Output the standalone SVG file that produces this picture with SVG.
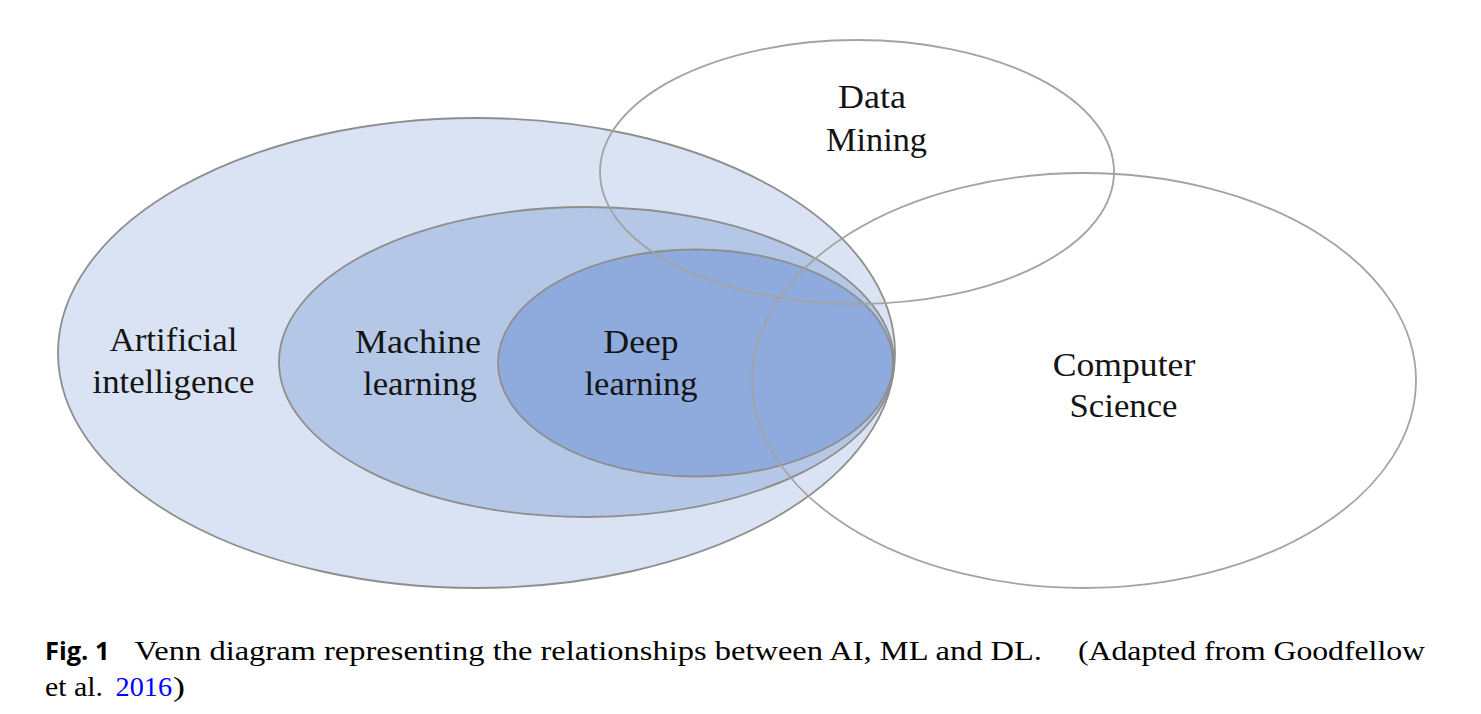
<svg xmlns="http://www.w3.org/2000/svg" width="1481" height="714" viewBox="0 0 1481 714">
<style>
.lbl{font-family:"Liberation Serif","Times New Roman",serif;font-size:34px;fill:#141414;text-anchor:middle}
.cap{font-family:"Liberation Serif","Times New Roman",serif;font-size:28px;fill:#000}
.figno{font-family:"Open Sans","DejaVu Sans",sans-serif;font-size:25px;font-weight:bold;fill:#000}
.set{stroke:#8e8e8e;stroke-width:1.8}
.ring{fill:none;stroke:#a3a3a3;stroke-width:1.8}
</style>
<rect width="1481" height="714" fill="#fff"/>
<g id="ai"><ellipse class="set" cx="476.5" cy="353" rx="418.5" ry="235" fill="#dae3f3"/></g>
<g id="ml"><ellipse class="set" cx="586.5" cy="362" rx="307.5" ry="155" fill="#b4c7e7"/></g>
<g id="dl"><ellipse class="set" cx="695.5" cy="363" rx="197.5" ry="113.5" fill="#8faadc"/></g>
<g id="dm"><ellipse class="ring" cx="857" cy="172" rx="257" ry="132"/></g>
<g id="cs"><ellipse class="ring" cx="1084" cy="380.5" rx="332" ry="207.5"/></g>
<g id="labels">
<text class="lbl" x="173.5" y="351" textLength="128" lengthAdjust="spacingAndGlyphs">Artificial</text>
<text class="lbl" x="173.5" y="393" textLength="162" lengthAdjust="spacingAndGlyphs">intelligence</text>
<text class="lbl" x="418" y="353" textLength="126" lengthAdjust="spacingAndGlyphs">Machine</text>
<text class="lbl" x="420" y="395" textLength="114" lengthAdjust="spacingAndGlyphs">learning</text>
<text class="lbl" x="641" y="353" textLength="75" lengthAdjust="spacingAndGlyphs">Deep</text>
<text class="lbl" x="641" y="395" textLength="113" lengthAdjust="spacingAndGlyphs">learning</text>
<text class="lbl" x="872" y="108" textLength="68" lengthAdjust="spacingAndGlyphs">Data</text>
<text class="lbl" x="876.5" y="150.5" textLength="101" lengthAdjust="spacingAndGlyphs">Mining</text>
<text class="lbl" x="1124" y="375.5" textLength="142.5" lengthAdjust="spacingAndGlyphs">Computer</text>
<text class="lbl" x="1123.5" y="416.5" textLength="108" lengthAdjust="spacingAndGlyphs">Science</text>
</g>
<g id="caption">
<text class="figno" x="45" y="660" textLength="64.5" lengthAdjust="spacingAndGlyphs">Fig. 1</text>
<text class="cap" x="134.5" y="660" textLength="907.5" lengthAdjust="spacingAndGlyphs">Venn diagram representing the relationships between AI, ML and DL.</text>
<text class="cap" x="1078" y="660" textLength="347" lengthAdjust="spacingAndGlyphs">(Adapted from Goodfellow</text>
<text class="cap" x="45" y="695.5" textLength="58" lengthAdjust="spacingAndGlyphs">et al.</text>
<text class="cap" x="115.5" y="695.5" textLength="56.5" lengthAdjust="spacingAndGlyphs" style="fill:#0000ff">2016</text>
<text class="cap" x="173" y="695.5" textLength="12" lengthAdjust="spacingAndGlyphs">)</text>
</g>
</svg>
